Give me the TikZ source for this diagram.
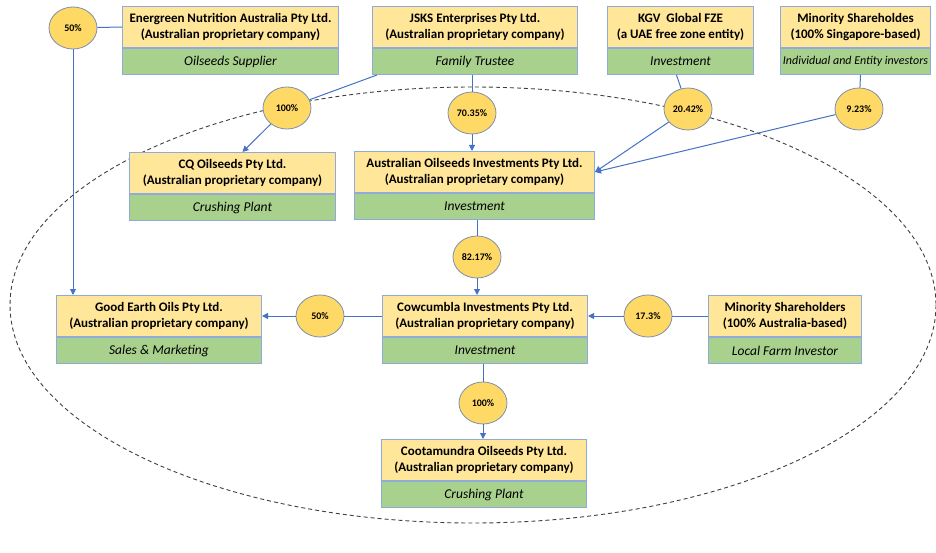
\documentclass[tikz,border=0pt]{standalone}
\usepackage{fontspec}
\setmainfont{Carlito}
\usetikzlibrary{arrows.meta,shapes.geometric}
\definecolor{yel}{HTML}{FFE699}
\definecolor{grn}{HTML}{A9D18E}
\definecolor{pct}{HTML}{FFD966}
\definecolor{bord}{HTML}{8FAADC}
\definecolor{pctb}{HTML}{7F8FAF}
\definecolor{conn}{HTML}{4472C4}
\begin{document}
\begin{tikzpicture}[x=1pt,y=-1pt,
  ybox/.style={draw=bord, line width=1pt, fill=yel, anchor=north west, minimum height=41pt, inner sep=0pt, align=center, font=\bfseries\fontsize{13}{16.5}\selectfont},
  gbox/.style={draw=bord, line width=1pt, fill=grn, anchor=north west, minimum height=26pt, inner sep=0pt, font=\itshape\fontsize{13.5}{15}\selectfont},
  pctnode/.style={ellipse, draw=pctb, line width=0.8pt, fill=pct, minimum width=48pt, minimum height=42pt, inner sep=0pt, font=\bfseries\fontsize{10}{11}\selectfont},
  link/.style={draw=conn, line width=1pt},
  arr/.style={link, -{Triangle[length=6pt,width=6pt]}}]
\path[use as bounding box, fill=white] (0,0) rectangle (936,553);
\draw[dashed, dash pattern=on 4pt off 3pt, line width=0.9pt, black!75] (473,305) ellipse [x radius=463, y radius=218];

% boxes
\node[ybox, minimum width=216pt] (en) at (122,6) {Energreen Nutrition Australia Pty Ltd.\\(Australian proprietary company)};
\node[gbox, minimum width=216pt] (enG) at (en.south west) {Oilseeds Supplier};
\node[ybox, minimum width=205pt] (js) at (372,6) {JSKS Enterprises Pty Ltd.\\(Australian proprietary company)};
\node[gbox, minimum width=205pt] (jsG) at (js.south west) {Family Trustee};
\node[ybox, minimum width=146pt] (kgv) at (607,6) {KGV\ \ Global FZE\\(a UAE free zone entity)};
\node[gbox, minimum width=146pt] (kgvG) at (kgv.south west) {Investment};
\node[ybox, minimum width=150pt] (msg) at (780,6) {Minority Shareholdes\\(100\% Singapore-based)};
\node[gbox, minimum width=150pt, font=\itshape\fontsize{12}{13}\selectfont] (msgG) at (msg.south west) {Individual and Entity investors};
\node[ybox, minimum width=206pt] (cq) at (129,152) {CQ Oilseeds Pty Ltd.\\(Australian proprietary company)};
\node[gbox, minimum width=206pt] (cqG) at (cq.south west) {Crushing Plant};
\node[ybox, minimum width=240pt] (aoi) at (354,151) {Australian Oilseeds Investments Pty Ltd.\\(Australian proprietary company)};
\node[gbox, minimum width=240pt] (aoiG) at (aoi.south west) {Investment};
\node[ybox, minimum width=205pt] (ge) at (56,295) {Good Earth Oils Pty Ltd.\\(Australian proprietary company)};
\node[gbox, minimum width=205pt] (geG) at (ge.south west) {Sales \& Marketing};
\node[ybox, minimum width=205pt] (cow) at (382,295) {Cowcumbla Investments Pty Ltd.\\(Australian proprietary company)};
\node[gbox, minimum width=205pt] (cowG) at (cow.south west) {Investment};
\node[ybox, minimum width=153pt] (mau) at (708,295) {Minority Shareholders\\(100\% Australia-based)};
\node[gbox, minimum width=153pt] (mauG) at (mau.south west) {Local Farm Investor};
\node[ybox, minimum width=205pt] (coo) at (381,439) {Cootamundra Oilseeds Pty Ltd.\\(Australian proprietary company)};
\node[gbox, minimum width=205pt] (cooG) at (coo.south west) {Crushing Plant};

% percentages
\node[pctnode] (p50a) at (73,28) {50\%};
\node[pctnode] (p100a) at (287,108) {100\%};
\node[pctnode] (p70) at (472,113) {70.35\%};
\node[pctnode] (p20) at (688,109) {20.42\%};
\node[pctnode] (p9) at (859,109) {9.23\%};
\node[pctnode] (p82) at (477,257) {82.17\%};
\node[pctnode] (p50b) at (320,316) {50\%};
\node[pctnode] (p17) at (648,316) {17.3\%};
\node[pctnode] (p100b) at (483,403) {100\%};

% connectors
\draw[link] (p50a) -- (en.west);
\draw[arr] (p50a) -- (p50a |- ge.north);
\coordinate (jsbl) at ([xshift=5pt]jsG.south west);
\draw[link] (jsbl) -- (p100a);
\draw[arr] (p100a) -- ([xshift=10pt]cq.north);
\draw[link] (jsG.south -| p70) -- (p70);
\draw[arr] (p70) -- (p70 |- aoi.north);
\draw[link] ([xshift=-4pt]kgvG.south) -- (p20);
\draw[arr] (p20) -- (aoi.east);
\draw[link] ([xshift=5pt]msgG.south) -- (p9);
\draw[arr] (p9) -- (aoi.east);
\draw[link] (aoiG.south -| p82) -- (p82);
\draw[arr] (p82) -- (p82 |- cow.north);
\draw[link] (cow.west) -- (p50b);
\draw[arr] (p50b) -- (ge.east);
\draw[link] (mau.west) -- (p17);
\draw[arr] (p17) -- (cow.east);
\draw[link] (cowG.south -| p100b) -- (p100b);
\draw[arr] (p100b) -- (p100b |- coo.north);
\end{tikzpicture}
\end{document}
